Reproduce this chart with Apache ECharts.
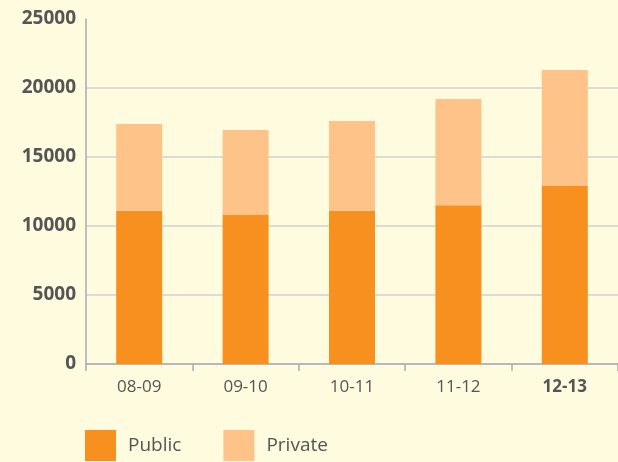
<!DOCTYPE html>
<html>
<head>
<meta charset="utf-8">
<script src="https://cdn.jsdelivr.net/npm/echarts@6/dist/echarts.min.js"></script>
<style>
  html, body { margin: 0; padding: 0; background: #fffbdf; }
  #chart { width: 618px; height: 462px; }
</style>
</head>
<body>
<div id="chart"></div>
<script>
// school years and enrolment split
var years = ['08-09', '09-10', '10-11', '11-12', '12-13'];
var publicVals = [11100, 10800, 11100, 11500, 12900];
var privateVals = [6300, 6150, 6500, 7700, 8400];
var yTicks = [0, 5000, 10000, 15000, 20000, 25000];

var chart = echarts.init(document.getElementById('chart'));

var font = '"Open Sans", "Noto Sans", sans-serif';

chart.setOption({
  backgroundColor: '#fffbdf',
  animation: false,
  grid: { left: 86, top: 19, bottom: 98, width: 535 },
  legend: {
    left: 85,
    bottom: 1,
    padding: 0,
    itemWidth: 31,
    itemHeight: 31,
    itemGap: 42,
    icon: 'rect',
    textStyle: { fontFamily: font, fontSize: 19, color: '#555', padding: [0, 0, 0, 7], width: 70 },
    data: ['Public', 'Private']
  },
  xAxis: {
    type: 'category',
    data: years,
    axisLine: { lineStyle: { color: '#a9adb6', width: 1.5 } },
    axisTick: { show: true, length: 7, lineStyle: { color: '#a9adb6', width: 1.5 } },
    axisLabel: {
      margin: 15,
      fontFamily: font,
      fontSize: 17,
      color: '#555',
      formatter: function (v, i) {
        return i === years.length - 1 ? '{b|' + v + '}' : v;
      },
      rich: { b: { fontFamily: font, fontSize: 17, fontWeight: 'bold', color: '#555' } }
    }
  },
  yAxis: {
    type: 'value',
    min: yTicks[0],
    max: yTicks[yTicks.length - 1],
    interval: 5000,
    axisLine: { show: true, lineStyle: { color: '#a9adb6', width: 1.5 } },
    axisTick: { show: false },
    axisLabel: {
      margin: 10, fontFamily: font, fontSize: 19, fontWeight: 'bold', color: '#555',
      padding: [4, 0, 0, 0],
      formatter: function (v) { return String(v); }
    },
    splitLine: { show: true, showMaxLine: false, lineStyle: { color: '#dcdbd4', width: 2 } }
  },
  series: [
    {
      name: 'Public',
      type: 'bar',
      stack: 'total',
      barWidth: 46,
      itemStyle: { color: '#f7901e' },
      data: publicVals
    },
    {
      name: 'Private',
      type: 'bar',
      stack: 'total',
      barWidth: 46,
      itemStyle: { color: '#fdc389' },
      data: privateVals
    }
  ]
});
</script>
</body>
</html>
